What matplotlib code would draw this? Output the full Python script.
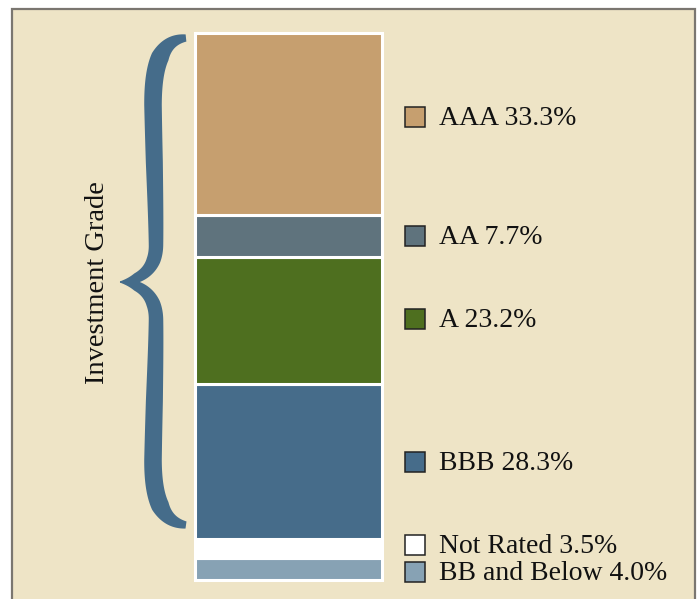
import numpy as np
import matplotlib
matplotlib.use("Agg")
import matplotlib.pyplot as plt
from matplotlib.patches import Rectangle, Polygon

# ---- data (bottom to top of the stacked bar)
ratings = ["BB and Below", "Not Rated", "BBB", "A", "AA", "AAA"]
shares = [4.0, 3.5, 28.3, 23.2, 7.7, 33.3]
colors = ["#87a2b4", "#ffffff", "#466c8a", "#4e6f1f", "#5f737d", "#c69f6f"]
# small nudges so the two bottom labels do not collide
label_nudge = [-0.6, 0.7, 0.0, 0.4, 0.0, 1.3]

W, H = 699, 599
BG = "#eee4c6"
BRACE = "#456c8a"
FONT = ["Liberation Serif", "DejaVu Serif"]

fig = plt.figure(figsize=(W / 100, H / 100), dpi=100, facecolor="white")

# ---- background layer in pixel coords (y pointing down)
bg = fig.add_axes([0, 0, 1, 1])
bg.set_xlim(0, W)
bg.set_ylim(H, 0)
bg.axis("off")
bg.add_patch(Rectangle((12, 9), 683, 620, facecolor=BG, edgecolor="#7a7670",
                       lw=1.6, clip_on=False))


def bez(p0, p1, p2, p3, n=60):
    t = np.linspace(0, 1, n)[:, None]
    p0, p1, p2, p3 = map(np.asarray, (p0, p1, p2, p3))
    return (1 - t) ** 3 * p0 + 3 * (1 - t) ** 2 * t * p1 + 3 * (1 - t) * t ** 2 * p2 + t ** 3 * p3


def tapered(pts, hw):
    d = np.gradient(pts, axis=0)
    d /= np.linalg.norm(d, axis=1)[:, None]
    nrm = np.column_stack([-d[:, 1], d[:, 0]])
    left = pts + nrm * hw[:, None]
    right = pts - nrm * hw[:, None]
    return np.vstack([left, right[::-1]])


# brace: two halves, each from its end to the tip
top = np.vstack([bez((186, 38), (162, 40), (153, 62), (153, 105)),
                 bez((153, 105), (154, 160), (156, 210), (156, 245)),
                 bez((156, 245), (156, 268), (142, 280), (120, 282))])
bot = np.vstack([bez((186, 525), (162, 522), (153, 500), (153, 460)),
                 bez((153, 460), (154, 405), (156, 355), (156, 320)),
                 bez((156, 320), (156, 296), (142, 284), (120, 282))])
for half in (top, bot):
    seg = np.linalg.norm(np.diff(half, axis=0), axis=1)
    s = np.concatenate([[0], np.cumsum(seg)]) / seg.sum()
    hw = np.interp(s, [0, 0.12, 0.5, 0.85, 0.94, 1.0], [3.6, 9.0, 8.5, 7.0, 5.0, 0.6])
    bg.add_patch(Polygon(tapered(half, hw), closed=True, facecolor=BRACE,
                         edgecolor="none"))

bg.text(97, 283, "Investment Grade", rotation=90, ha="center", va="center",
        fontsize=20.5, family=FONT, color="#111111")

# ---- stacked bar
ax = fig.add_axes([195 / W, (H - 580) / H, 187 / W, 547 / H])
ax.set_xlim(0, 1)
ax.set_ylim(0, 100)
ax.axis("off")

bottoms = np.concatenate([[0], np.cumsum(shares)[:-1]])
ax.bar([0.5] * len(shares), shares, width=1.0, bottom=bottoms, color=colors,
       edgecolor="white", linewidth=2.2, clip_on=False)

tr = ax.get_yaxis_transform()
centers = bottoms + np.array(shares) / 2 + np.array(label_nudge)
for name, val, col, yc in zip(ratings, shares, colors, centers):
    ax.plot([1.175], [yc], marker="s", markersize=14.2, color=col,
            markeredgecolor="#222222", markeredgewidth=1.1, transform=tr,
            clip_on=False)
    ax.text(1.305, yc - 0.3, f"{name} {val:.1f}%", transform=tr, ha="left",
            va="center", fontsize=20, family=FONT, color="#111111")

fig.savefig("out.png", dpi=100, facecolor="white")
